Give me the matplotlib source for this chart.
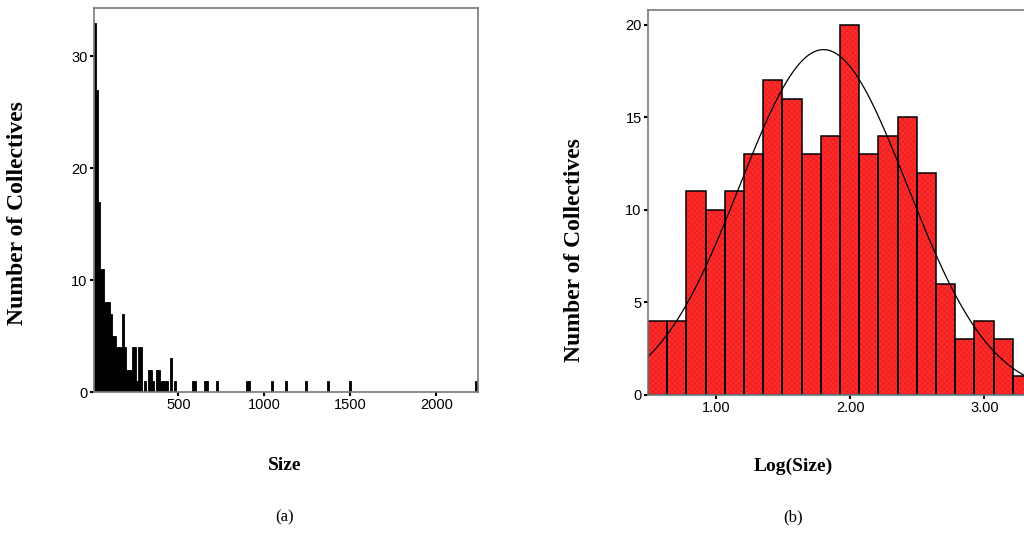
import numpy as np
import matplotlib
matplotlib.use("Agg")
import matplotlib.pyplot as plt
from matplotlib import font_manager

# --- data (a): histogram of Size, fixed-width bins ---
size_min = 9
size_max = 2243
bin_width = 11.6
size_bins = [0, 1, 2, 3, 4, 5, 6, 7, 8, 9, 10, 11, 12, 13, 14, 15, 16, 17, 18, 19,
             20, 21, 22, 23, 25, 27, 28, 29, 31, 32, 33, 34, 35, 36, 38, 40,
             49, 50, 55, 56, 61, 76, 77, 89, 96, 106, 117, 128, 191]
size_counts = [33, 27, 17, 11, 11, 8, 8, 8, 7, 5, 5, 4, 4, 4, 7, 4, 2, 2, 2, 4,
               4, 1, 4, 4, 1, 2, 2, 1, 2, 2, 1, 1, 1, 1, 3, 1,
               1, 1, 1, 1, 1, 1, 1, 1, 1, 1, 1, 1, 1]

# --- data (b): histogram of Log(Size) ---
log_start = 0.49
log_width = 0.1433
log_counts = [4, 4, 11, 10, 11, 13, 17, 16, 13, 14, 20, 13, 14, 15, 12, 6, 3, 4, 3, 1]
fit_mean = 1.80
fit_sd = 0.625

y_label = "Number of Collectives"

# fonts
names = {f.name for f in font_manager.fontManager.ttflist}
tick_font = ["Liberation Sans Narrow", "Liberation Sans"] if "Liberation Sans Narrow" in names else ["Liberation Sans"]
serif = ["Liberation Serif", "DejaVu Serif"]

plt.rcParams["hatch.linewidth"] = 0.35
FRAME = "#7a7a7a"

fig = plt.figure(figsize=(10.24, 5.33), dpi=100)


def style_axes(ax):
    for s in ax.spines.values():
        s.set_color(FRAME)
        s.set_linewidth(1.2)
    ax.tick_params(direction="out", length=3, width=1.5, color="black",
                   labelsize=10.5, pad=1.5)
    for lab in ax.get_xticklabels() + ax.get_yticklabels():
        lab.set_family(tick_font)


# (a)
ax1 = fig.add_axes([94 / 1024, 141 / 533, 384 / 1024, 384 / 533])
left_edges = [size_min + k * bin_width for k in size_bins]
ax1.bar(left_edges, size_counts, width=bin_width, align="edge", color="black",
        edgecolor="black", linewidth=0.6)
ax1.set_xlim(size_min, size_max)
ax1.set_ylim(0, 34.3)
ax1.set_xticks([500, 1000, 1500, 2000])
ax1.set_yticks([0, 10, 20, 30])
style_axes(ax1)

# (b)
ax2 = fig.add_axes([648 / 1024, 138 / 533, 384 / 1024, 385 / 533])
n_bins = len(log_counts)
log_edges = log_start + log_width * np.arange(n_bins)
ax2.bar(log_edges, log_counts, width=log_width, align="edge", color="#ff2b2b",
        edgecolor="#dc1c1c", hatch="xxxxxx", linewidth=0)
ax2.bar(log_edges, log_counts, width=log_width, align="edge", fill=False,
        edgecolor="black", linewidth=1.1)
xs = np.linspace(log_start, log_start + n_bins * log_width, 300)
total = sum(log_counts)
curve = total * log_width / (fit_sd * np.sqrt(2 * np.pi)) * np.exp(-0.5 * ((xs - fit_mean) / fit_sd) ** 2)
ax2.plot(xs, curve, color="black", linewidth=0.9)
ax2.set_xlim(log_start, log_start + n_bins * log_width)
ax2.set_ylim(0, 20.8)
ax2.set_xticks([1, 2, 3])
ax2.set_xticklabels(["1.00", "2.00", "3.00"])
ax2.set_yticks([0, 5, 10, 15, 20])
style_axes(ax2)

# labels
fig.text(18 / 1024, 1 - 213 / 533, y_label, rotation=90, ha="center", va="center",
         family=serif, fontweight="bold", fontsize=17)
fig.text(575 / 1024, 1 - 250 / 533, y_label, rotation=90, ha="center", va="center",
         family=serif, fontweight="bold", fontsize=17)
fig.text(285 / 1024, 1 - 466 / 533, "Size", ha="center", va="center",
         family=serif, fontweight="bold", fontsize=14)
fig.text(793 / 1024, 1 - 466 / 533, "Log(Size)", ha="center", va="center",
         family=serif, fontweight="bold", fontsize=14)
fig.text(285 / 1024, 1 - 517 / 533, "(a)", ha="center", va="center",
         family=serif, fontsize=12)
fig.text(793 / 1024, 1 - 517 / 533, "(b)", ha="center", va="center",
         family=serif, fontsize=12)

fig.savefig("out.png", dpi=100)
